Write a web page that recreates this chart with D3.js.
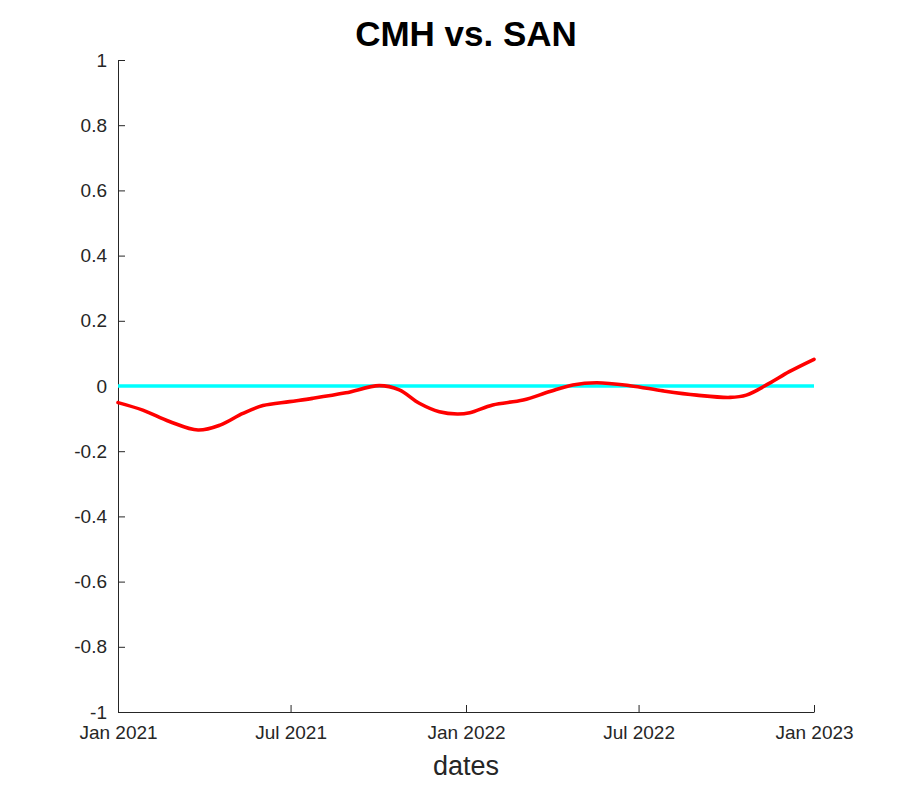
<!DOCTYPE html>
<html>
<head>
<meta charset="utf-8">
<script src="https://cdn.jsdelivr.net/npm/d3@7"></script>
<style>
body { margin: 0; background: #fff; }
svg text { font-family: "Liberation Sans", Arial, Helvetica, sans-serif; fill: #262626; }
</style>
</head>
<body>
<svg id="chart" width="900" height="800"></svg>
<script>
const title = "CMH vs. SAN";
const xLabel = "dates";
const dates = ["2021-01-01","2021-01-27","2021-02-24","2021-03-26","2021-04-18","2021-05-12","2021-06-02","2021-06-30","2021-07-24","2021-08-28","2021-10-02","2021-10-23","2021-11-13","2021-12-04","2021-12-23","2022-01-05","2022-01-29","2022-03-02","2022-03-30","2022-04-23","2022-05-18","2022-06-22","2022-07-27","2022-08-31","2022-10-05","2022-10-22","2022-11-15","2022-12-06","2023-01-01"];
const values = [-0.051,-0.074,-0.109,-0.135,-0.120,-0.084,-0.060,-0.048,-0.038,-0.021,0.001,-0.012,-0.053,-0.079,-0.086,-0.082,-0.058,-0.043,-0.017,0.003,0.010,0.001,-0.015,-0.028,-0.035,-0.028,0.008,0.044,0.082];
const baseline = [0, 0];
const xTickDates = ["2021-01-01","2021-07-01","2022-01-01","2022-07-01","2023-01-01"];
const xTickLabels = ["Jan 2021","Jul 2021","Jan 2022","Jul 2022","Jan 2023"];
const yTicks = [-1,-0.8,-0.6,-0.4,-0.2,0,0.2,0.4,0.6,0.8,1];
const yTickLabels = ["-1","-0.8","-0.6","-0.4","-0.2","0","0.2","0.4","0.6","0.8","1"];

const parse = d3.utcParse("%Y-%m-%d");
const svg = d3.select("#chart");
const m = {left: 118, right: 814, top: 60, bottom: 712};

const x = d3.scaleUtc().domain([parse("2021-01-01"), parse("2023-01-01")]).range([m.left, m.right]);
const y = d3.scaleLinear().domain([-1, 1]).range([m.bottom, m.top]);

const axisColor = "#262626";

// x axis
const xAxis = d3.axisBottom(x)
  .tickValues(xTickDates.map(parse))
  .tickFormat((d, i) => xTickLabels[i])
  .tickSizeInner(-7).tickSizeOuter(0).tickPadding(14);
const gx = svg.append("g").attr("transform", `translate(0,${m.bottom})`).call(xAxis);
gx.select(".domain").attr("stroke", axisColor);
gx.selectAll(".tick line").attr("stroke", axisColor);
gx.selectAll(".tick text").attr("font-size", "19px").attr("fill", axisColor)
  .attr("font-family", "Liberation Sans, Arial, sans-serif");

// y axis
const yAxis = d3.axisLeft(y)
  .tickValues(yTicks)
  .tickFormat((d, i) => yTickLabels[i])
  .tickSizeInner(-7).tickSizeOuter(0).tickPadding(11);
const gy = svg.append("g").attr("transform", `translate(${m.left},0)`).call(yAxis);
gy.select(".domain").attr("stroke", axisColor);
gy.selectAll(".tick line").attr("stroke", axisColor);
gy.selectAll(".tick text").attr("font-size", "19px").attr("fill", axisColor)
  .attr("font-family", "Liberation Sans, Arial, sans-serif");

// baseline (cyan)
svg.append("path")
  .datum(baseline.map((v, i) => ({d: i === 0 ? x.domain()[0] : x.domain()[1], v})))
  .attr("fill", "none").attr("stroke", "#00ffff").attr("stroke-width", 3.6)
  .attr("d", d3.line().x(p => x(p.d)).y(p => y(p.v)));

// data line (red)
const pts = dates.map((d, i) => ({d: parse(d), v: values[i]}));
svg.append("path")
  .datum(pts)
  .attr("fill", "none").attr("stroke", "#ff0000").attr("stroke-width", 3.6)
  .attr("stroke-linejoin", "round").attr("stroke-linecap", "round")
  .attr("d", d3.line().x(p => x(p.d)).y(p => y(p.v)).curve(d3.curveCatmullRom.alpha(0.5)));

// title
svg.append("text").attr("x", (m.left + m.right) / 2).attr("y", 46)
  .attr("text-anchor", "middle").attr("font-size", "35px").attr("font-weight", "bold")
  .attr("fill", "#000").style("fill", "#000").text(title);

// x label
svg.append("text").attr("x", (m.left + m.right) / 2).attr("y", 775)
  .attr("text-anchor", "middle").attr("font-size", "27px").text(xLabel);
</script>
</body>
</html>
